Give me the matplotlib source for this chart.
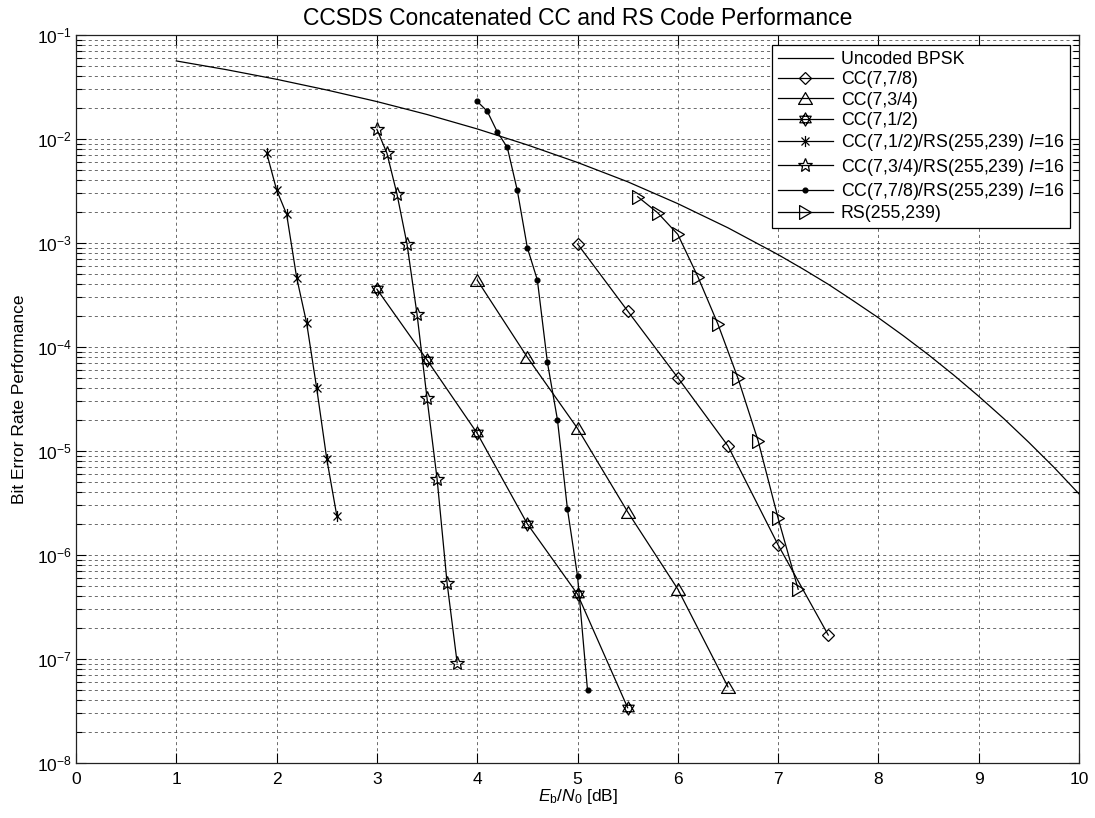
import numpy as np
import matplotlib
matplotlib.use("Agg")
import matplotlib.pyplot as plt
from matplotlib.path import Path
from matplotlib.ticker import NullLocator, FixedLocator, LogFormatterSciNotation

plt.rcParams['font.family'] = ['Liberation Sans', 'DejaVu Sans']
plt.rcParams['mathtext.fontset'] = 'custom'
plt.rcParams['mathtext.rm'] = 'Liberation Sans'
plt.rcParams['mathtext.it'] = 'Liberation Sans:italic'
plt.rcParams['mathtext.default'] = 'regular'
plt.rcParams['lines.scale_dashes'] = False

# ---- data ----
bpsk_x = [1.0, 1.5, 2.0, 2.5, 3.0, 3.5, 4.0, 4.5, 5.0, 5.5, 6.0, 6.5, 7.0, 7.25, 7.5, 7.75,
          8.0, 8.25, 8.5, 8.75, 9.0, 9.25, 9.5, 9.75, 10.0]
bpsk_y = [5.63e-2, 4.64e-2, 3.75e-2, 2.96e-2, 2.29e-2, 1.72e-2, 1.25e-2, 8.77e-3, 5.95e-3, 3.88e-3,
          2.39e-3, 1.40e-3, 7.73e-4, 5.61e-4, 4.01e-4, 2.78e-4, 1.91e-4, 1.28e-4, 8.40e-5, 5.38e-5,
          3.36e-5, 2.05e-5, 1.21e-5, 6.97e-6, 3.87e-6]

cc78_x = [5.0, 5.5, 6.0, 6.5, 7.0, 7.5]
cc78_y = [9.8e-4, 2.22e-4, 5.07e-5, 1.12e-5, 1.25e-6, 1.70e-7]

cc34_x = [4.0, 4.5, 5.0, 5.5, 6.0, 6.5]
cc34_y = [4.4e-4, 7.96e-5, 1.65e-5, 2.6e-6, 4.7e-7, 5.4e-8]

cc12_x = [3.0, 3.5, 4.0, 4.5, 5.0, 5.5]
cc12_y = [3.6e-4, 7.5e-5, 1.48e-5, 1.99e-6, 4.2e-7, 3.4e-8]

cc12rs_x = [1.9, 2.0, 2.1, 2.2, 2.3, 2.4, 2.5, 2.6]
cc12rs_y = [7.4e-3, 3.24e-3, 1.89e-3, 4.65e-4, 1.69e-4, 4.0e-5, 8.4e-6, 2.39e-6]

cc34rs_x = [3.0, 3.1, 3.2, 3.3, 3.4, 3.5, 3.6, 3.7, 3.8]
cc34rs_y = [1.24e-2, 7.3e-3, 2.96e-3, 9.8e-4, 2.07e-4, 3.2e-5, 5.4e-6, 5.35e-7, 9.2e-8]

cc78rs_x = [4.0, 4.1, 4.2, 4.3, 4.4, 4.5, 4.6, 4.7, 4.8, 4.9, 5.0, 5.1]
cc78rs_y = [2.3e-2, 1.85e-2, 1.17e-2, 8.3e-3, 3.2e-3, 9.0e-4, 4.4e-4, 7.1e-5, 2.0e-5, 2.75e-6, 6.3e-7, 5.0e-8]

rs_x = [5.6, 5.8, 6.0, 6.2, 6.4, 6.6, 6.8, 7.0, 7.2]
rs_y = [2.79e-3, 1.95e-3, 1.21e-3, 4.74e-4, 1.66e-4, 5.0e-5, 1.26e-5, 2.26e-6, 4.68e-7]

labels = ['Uncoded BPSK', 'CC(7,7/8)', 'CC(7,3/4)', 'CC(7,1/2)',
          r'CC(7,1/2)/RS(255,239) $\mathit{I}$=16',
          r'CC(7,3/4)/RS(255,239) $\mathit{I}$=16',
          r'CC(7,7/8)/RS(255,239) $\mathit{I}$=16',
          'RS(255,239)']

x_ticks = list(range(0, 11))
y_major = [1e-8, 1e-7, 1e-6, 1e-5, 1e-4, 1e-3, 1e-2, 1e-1]

# ---- custom markers ----
h = np.sqrt(3) / 2
hexagram = Path([(0, 1), (-h, -0.5), (h, -0.5), (0, 1),
                 (0, -1), (-h, 0.5), (h, 0.5), (0, -1)],
                [Path.MOVETO, Path.LINETO, Path.LINETO, Path.CLOSEPOLY,
                 Path.MOVETO, Path.LINETO, Path.LINETO, Path.CLOSEPOLY])
d = 0.72
asterisk = Path([(0, -1), (0, 1), (-d, -d), (d, d), (-d, d), (d, -d)],
                [Path.MOVETO, Path.LINETO, Path.MOVETO, Path.LINETO, Path.MOVETO, Path.LINETO])
tri_up = Path([(0, 0.85), (-1, -0.85), (1, -0.85), (0, 0.85)],
              [Path.MOVETO, Path.LINETO, Path.LINETO, Path.CLOSEPOLY])
tri_right = Path([(0.85, 0), (-0.85, 1), (-0.85, -1), (0.85, 0)],
                 [Path.MOVETO, Path.LINETO, Path.LINETO, Path.CLOSEPOLY])

W, H = 1095, 818
L, R, T, B = 76, 1079, 35, 763
fig = plt.figure(figsize=(W / 100, H / 100), dpi=100)
ax = fig.add_axes([L / W, 1 - B / H, (R - L) / W, (B - T) / H])

lw = 0.9
kw = dict(color='black', lw=lw, mfc='none', mec='black', mew=0.9)
ax.semilogy(bpsk_x, bpsk_y, '-', color='black', lw=lw, label=labels[0])
ax.semilogy(cc78_x, cc78_y, marker='D', ms=6.5, label=labels[1], **kw)
ax.semilogy(cc34_x, cc34_y, marker=tri_up, ms=10, label=labels[2], **kw)
ax.semilogy(cc12_x, cc12_y, marker=hexagram, ms=9.5, label=labels[3], **kw)
ax.semilogy(cc12rs_x, cc12rs_y, marker=asterisk, ms=8, label=labels[4], **kw)
ax.semilogy(cc34rs_x, cc34rs_y, marker='*', ms=10.5, label=labels[5], **kw)
ax.semilogy(cc78rs_x, cc78rs_y, marker='o', ms=3.4, color='black', lw=lw, mfc='black', mec='black',
            label=labels[6])
ax.semilogy(rs_x, rs_y, marker=tri_right, ms=10, label=labels[7], **kw)

ax.set_xlim(0, 10)
ax.set_ylim(1e-8, 1e-1)
ax.xaxis.set_major_locator(FixedLocator(x_ticks))
ax.xaxis.set_minor_locator(NullLocator())
ax.yaxis.set_major_locator(FixedLocator(y_major))
y_minor = [m * v for v in y_major[:-1] for m in range(2, 10)]
ax.yaxis.set_minor_locator(FixedLocator(y_minor))
ax.yaxis.set_major_formatter(LogFormatterSciNotation())

gstyle = dict(color='#444444', lw=0.55, linestyle=(0, (2.2, 2.2)))
ax.grid(True, which='major', axis='both', **gstyle)
ax.grid(True, which='minor', axis='y', **gstyle)

ax.tick_params(which='both', direction='in', top=True, right=True, labelsize=12.5, width=0.8)
ax.tick_params(which='major', length=7.2)
ax.tick_params(which='minor', length=4)
ax.tick_params(axis='x', which='major', pad=6.5)
ax.tick_params(axis='y', which='major', pad=3)
for s in ax.spines.values():
    s.set_linewidth(0.9)
    s.set_color('#222222')

ax.set_title('CCSDS Concatenated CC and RS Code Performance', fontsize=16.5, pad=7)
ax.set_xlabel(r'$\mathit{E}_{\mathrm{b}}/\mathit{N}_{\mathrm{0}}$ [dB]', fontsize=12.5, labelpad=0)
ax.set_ylabel('Bit Error Rate Performance', fontsize=12.5, labelpad=7)

leg = ax.legend(loc='upper left', bbox_to_anchor=((772 - L) / (R - L), (B - 45) / (B - T)),
                borderaxespad=0, fancybox=False, framealpha=1, edgecolor='black', fontsize=12.75,
                handlelength=3.1, labelspacing=0.19, borderpad=0.33, handletextpad=0.45)
leg.get_frame().set_linewidth(0.9)

fig.savefig('out.png', dpi=100)
